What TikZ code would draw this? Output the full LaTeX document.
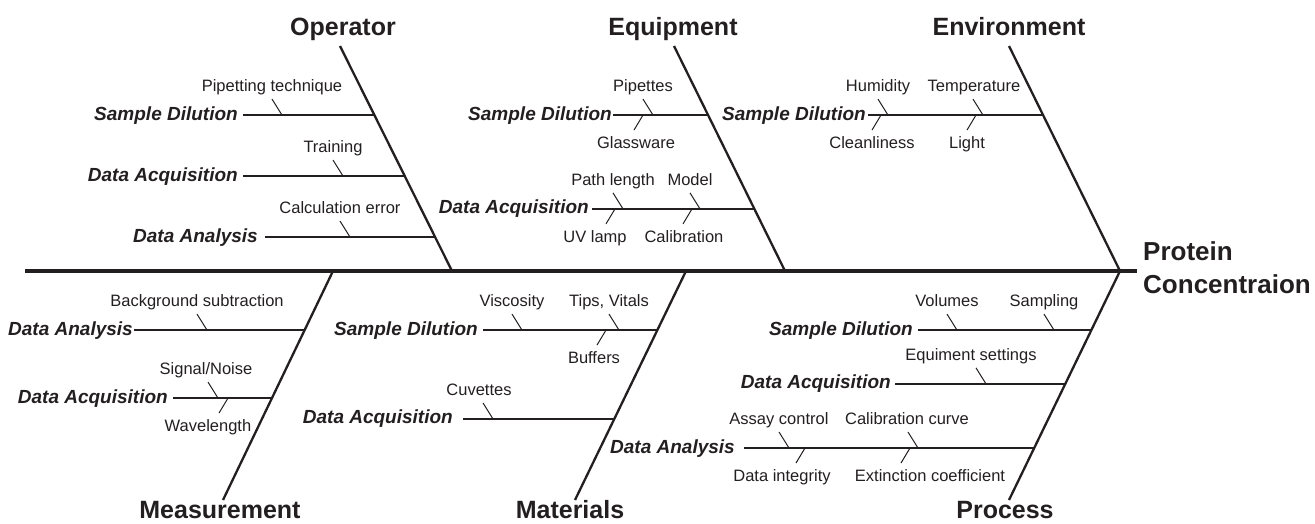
\documentclass[tikz,border=0pt]{standalone}
\usepackage{fontspec}
\setmainfont{Liberation Sans}
\usetikzlibrary{positioning}
\definecolor{fbink}{HTML}{231F20}
\tikzset{
  spine/.style     = {draw=fbink, line width=3.6pt},
  bone/.style      = {draw=fbink, line width=2.3pt},
  rib/.style       = {draw=fbink, line width=2pt},
  twig/.style      = {draw=fbink, line width=1pt},
  %
  effect/.style    = {font=\fontsize{26}{33}\selectfont\bfseries, align=left,
                      inner sep=0pt, text=fbink},
  category/.style  = {font=\fontsize{25}{28}\selectfont\bfseries, inner sep=0pt,
                      text=fbink, text height=18pt, text depth=5pt},
  categorylow/.style = {category, text depth=0pt},
  cause/.style     = {font=\fontsize{19}{21}\selectfont\bfseries\itshape,
                      inner sep=0pt, text=fbink, text height=14pt,
                      text depth=4pt, anchor=east},
  factor/.style    = {font=\fontsize{16.5}{18}\selectfont, inner sep=0pt,
                      text=fbink, text height=12pt, text depth=3.5pt},
  factorup/.style  = {factor, anchor=south, yshift=3.5pt},
  factordn/.style  = {factor, anchor=north, yshift=-6pt},
}

\begin{document}
\begin{tikzpicture}[x=1pt, y=-1pt]
  \useasboundingbox (0,0) rectangle (1315,524);

  % ---------- spine and effect -----------------------------------------
  \coordinate (tail) at (25,271);
  \coordinate (head) at (1137,271);
  \draw[spine] (tail) -- (head);
  \node[effect, right=6pt of head, yshift=3pt] (pc) {Protein\\Concentraion};

  % ---------- upper bones ----------------------------------------------
  \coordinate (opT) at (340,46);  \coordinate (opB) at (452,271);
  \coordinate (eqT) at (674,46);  \coordinate (eqB) at (785,271);
  \coordinate (enT) at (1009,46); \coordinate (enB) at (1120,271);
  \draw[bone] (opT) -- coordinate[pos=.307] (op1) coordinate[pos=.578] (op2)
                       coordinate[pos=.849] (op3) (opB);
  \draw[bone] (eqT) -- coordinate[pos=.307] (eq1) coordinate[pos=.724] (eq2) (eqB);
  \draw[bone] (enT) -- coordinate[pos=.307] (en1) (enB);
  \node[category, above=5pt of opT, xshift=3pt] (opN) {Operator};
  \node[category, above=5pt of eqT, xshift=-1pt] (eqN) {Equipment};
  \node[category, above=5pt of enT] (enN) {Environment};

  % ---------- lower bones ----------------------------------------------
  \coordinate (meT) at (333,271);  \coordinate (meB) at (223,500);
  \coordinate (maT) at (686,271);  \coordinate (maB) at (575,500);
  \coordinate (prT) at (1120,271); \coordinate (prB) at (1009,500);
  \draw[bone] (meT) -- coordinate[pos=.258] (me1) coordinate[pos=.555] (me2) (meB);
  \draw[bone] (maT) -- coordinate[pos=.258] (ma1) coordinate[pos=.646] (ma2) (maB);
  \draw[bone] (prT) -- coordinate[pos=.258] (pr1) coordinate[pos=.493] (pr2)
                       coordinate[pos=.773] (pr3) (prB);
  \node[categorylow, below=0pt of meB, xshift=-3pt] (meN) {Measurement};
  \node[categorylow, below=0pt of maB, xshift=-5pt] (maN) {Materials};
  \node[categorylow, below=0pt of prB, xshift=-4pt] (prN) {Process};

  % ---------- Operator -------------------------------------------------
  \node[cause] (opSD) at (238,0 |- op1) {Sample Dilution};
  \draw[rib] ([xshift=5pt]opSD.east) -- (op1);
  \draw[twig] (282,0 |- op1) coordinate (op1a) -- ++(-10,-16) coordinate (op1at);
  \node[factorup] (op1al) at (op1at) {Pipetting technique};

  \node[cause] (opDQ) at (238,0 |- op2) {Data Acquisition};
  \draw[rib] ([xshift=5pt]opDQ.east) -- (op2);
  \draw[twig] (343,0 |- op2) coordinate (op2a) -- ++(-10,-16) coordinate (op2at);
  \node[factorup] (op2al) at (op2at) {Training};

  \node[cause] (opDA) at (258,0 |- op3) {Data Analysis};
  \draw[rib] ([xshift=7pt]opDA.east) -- (op3);
  \draw[twig] (350,0 |- op3) coordinate (op3a) -- ++(-10,-16) coordinate (op3at);
  \node[factorup] (op3al) at (op3at) {Calculation error};

  % ---------- Equipment ------------------------------------------------
  \node[cause] (eqSD) at (612,0 |- eq1) {Sample Dilution};
  \draw[rib] ([xshift=1pt]eqSD.east) -- (eq1);
  \draw[twig] (653,0 |- eq1) coordinate (eq1a) -- ++(-10,-16) coordinate (eq1at);
  \node[factorup] (eq1al) at (eq1at) {Pipettes};
  \draw[twig] (643,0 |- eq1) coordinate (eq1b) -- ++(-9,15) coordinate (eq1bt);
  \node[factordn, xshift=2pt] (eq1bl) at (eq1bt) {Glassware};

  \node[cause] (eqDQ) at (589,0 |- eq2) {Data Acquisition};
  \draw[rib] ([xshift=3pt]eqDQ.east) -- (eq2);
  \draw[twig] (623,0 |- eq2) coordinate (eq2a) -- ++(-10,-16) coordinate (eq2at);
  \node[factorup] (eq2al) at (eq2at) {Path length};
  \draw[twig] (615,0 |- eq2) coordinate (eq2b) -- ++(-9,15) coordinate (eq2bt);
  \node[factordn, xshift=-11pt] (eq2bl) at (eq2bt) {UV lamp};
  \draw[twig] (700,0 |- eq2) coordinate (eq2c) -- ++(-10,-16) coordinate (eq2ct);
  \node[factorup] (eq2cl) at (eq2ct) {Model};
  \draw[twig] (692,0 |- eq2) coordinate (eq2d) -- ++(-9,15) coordinate (eq2dt);
  \node[factordn, xshift=1pt] (eq2dl) at (eq2dt) {Calibration};

  % ---------- Environment ----------------------------------------------
  \node[cause] (enSD) at (866,0 |- en1) {Sample Dilution};
  \draw[rib] ([xshift=2pt]enSD.east) -- (en1);
  \draw[twig] (888,0 |- en1) coordinate (en1a) -- ++(-10,-16) coordinate (en1at);
  \node[factorup] (en1al) at (en1at) {Humidity};
  \draw[twig] (881,0 |- en1) coordinate (en1b) -- ++(-9,15) coordinate (en1bt);
  \node[factordn] (en1bl) at (en1bt) {Cleanliness};
  \draw[twig] (983,0 |- en1) coordinate (en1c) -- ++(-10,-16) coordinate (en1ct);
  \node[factorup, xshift=1pt] (en1cl) at (en1ct) {Temperature};
  \draw[twig] (976,0 |- en1) coordinate (en1d) -- ++(-9,15) coordinate (en1dt);
  \node[factordn] (en1dl) at (en1dt) {Light};

  % ---------- Measurement ----------------------------------------------
  \node[cause] (meDA) at (133,0 |- me1) {Data Analysis};
  \draw[rib] ([xshift=1pt]meDA.east) -- (me1);
  \draw[twig] (207,0 |- me1) coordinate (me1a) -- ++(-10,-16) coordinate (me1at);
  \node[factorup] (me1al) at (me1at) {Background subtraction};

  \node[cause] (meDQ) at (168,0 |- me2) {Data Acquisition};
  \draw[rib] ([xshift=5pt]meDQ.east) -- (me2);
  \draw[twig] (218,0 |- me2) coordinate (me2a) -- ++(-10,-16) coordinate (me2at);
  \node[factorup, xshift=-2pt] (me2al) at (me2at) {Signal/Noise};
  \draw[twig] (228,0 |- me2) coordinate (me2b) -- ++(-9,15) coordinate (me2bt);
  \node[factordn, xshift=-11pt] (me2bl) at (me2bt) {Wavelength};

  % ---------- Materials ------------------------------------------------
  \node[cause] (maSD) at (478,0 |- ma1) {Sample Dilution};
  \draw[rib] ([xshift=5pt]maSD.east) -- (ma1);
  \draw[twig] (522,0 |- ma1) coordinate (ma1a) -- ++(-10,-16) coordinate (ma1at);
  \node[factorup] (ma1al) at (ma1at) {Viscosity};
  \draw[twig] (619,0 |- ma1) coordinate (ma1c) -- ++(-10,-16) coordinate (ma1ct);
  \node[factorup] (ma1cl) at (ma1ct) {Tips, Vitals};
  \draw[twig] (606,0 |- ma1) coordinate (ma1b) -- ++(-9,15) coordinate (ma1bt);
  \node[factordn, xshift=-3pt] (ma1bl) at (ma1bt) {Buffers};

  \node[cause] (maDQ) at (453,0 |- ma2) {Data Acquisition};
  \draw[rib] ([xshift=10pt]maDQ.east) -- (ma2);
  \draw[twig] (493,0 |- ma2) coordinate (ma2a) -- ++(-10,-16) coordinate (ma2at);
  \node[factorup, xshift=-4pt] (ma2al) at (ma2at) {Cuvettes};

  % ---------- Process --------------------------------------------------
  \node[cause] (prSD) at (913,0 |- pr1) {Sample Dilution};
  \draw[rib] ([xshift=5pt]prSD.east) -- (pr1);
  \draw[twig] (957,0 |- pr1) coordinate (pr1a) -- ++(-10,-16) coordinate (pr1at);
  \node[factorup] (pr1al) at (pr1at) {Volumes};
  \draw[twig] (1054,0 |- pr1) coordinate (pr1c) -- ++(-10,-16) coordinate (pr1ct);
  \node[factorup] (pr1cl) at (pr1ct) {Sampling};

  \node[cause] (prDQ) at (891,0 |- pr2) {Data Acquisition};
  \draw[rib] ([xshift=4pt]prDQ.east) -- (pr2);
  \draw[twig] (986,0 |- pr2) coordinate (pr2a) -- ++(-10,-16) coordinate (pr2at);
  \node[factorup, xshift=-5pt] (pr2al) at (pr2at) {Equiment settings};

  \node[cause] (prDA) at (735,0 |- pr3) {Data Analysis};
  \draw[rib] ([xshift=9pt]prDA.east) -- (pr3);
  \draw[twig] (789,0 |- pr3) coordinate (pr3a) -- ++(-10,-16) coordinate (pr3at);
  \node[factorup] (pr3al) at (pr3at) {Assay control};
  \draw[twig] (805,0 |- pr3) coordinate (pr3b) -- ++(-9,15) coordinate (pr3bt);
  \node[factordn, xshift=-14pt] (pr3bl) at (pr3bt) {Data integrity};
  \draw[twig] (918,0 |- pr3) coordinate (pr3c) -- ++(-10,-16) coordinate (pr3ct);
  \node[factorup, xshift=-1pt] (pr3cl) at (pr3ct) {Calibration curve};
  \draw[twig] (910,0 |- pr3) coordinate (pr3d) -- ++(-9,15) coordinate (pr3dt);
  \node[factordn, xshift=29pt] (pr3dl) at (pr3dt) {Extinction coefficient};

\end{tikzpicture}
\end{document}
